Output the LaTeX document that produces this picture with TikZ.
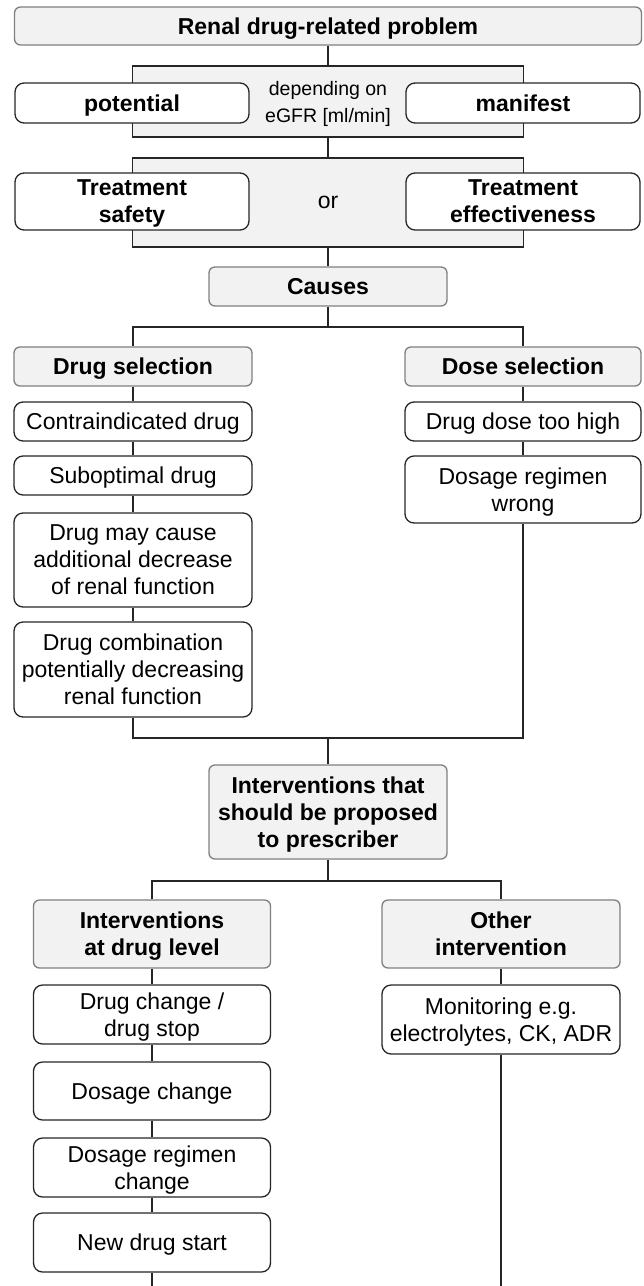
\documentclass[tikz,border=0pt]{standalone}
\usepackage{fontspec}
\setmainfont{Liberation Sans}
\definecolor{headfill}{HTML}{F2F2F2}
\definecolor{headline}{HTML}{7F7F7F}

\begin{document}
\fontsize{23}{27}\selectfont
\begin{tikzpicture}[x = 1pt, y = -1pt,
    head/.style = {draw = headline, fill = headfill, rounded corners = 6pt,
      line width = 1.3pt, font = \bfseries, align = center, inner sep = 0pt,
      text depth = 0pt},
    item/.style = {draw = black!85, fill = white, rounded corners = 9pt,
      line width = 1.3pt, align = center, inner sep = 0pt, text depth = 0pt},
    group/.style = {draw = black!85, fill = headfill, line width = 1.3pt,
      align = center, inner sep = 0pt, text depth = 0pt},
    link/.style = {draw = black!85, line width = 1.4pt}]

  \useasboundingbox (0, 0) rectangle (644, 1286);

  \node[head, minimum width = 627pt, minimum height = 38pt]
    (problem) at (328, 26) {Renal drug-related problem};

  \node[group, minimum width = 391pt, minimum height = 71pt,
    font = \fontsize{19.5}{27}\selectfont]
    (egfr) at (328, 101.5) {depending on\\eGFR [ml/min]};
  \node[item, font = \bfseries, minimum width = 234pt, minimum height = 40pt]
    (potential) at (132, 103) {potential};
  \node[item, font = \bfseries, minimum width = 234pt, minimum height = 40pt]
    (manifest) at (523, 103) {manifest};

  \node[group, minimum width = 391pt, minimum height = 89pt]
    (treatment) at (328, 202.5) {or};
  \node[item, font = \bfseries, minimum width = 234pt, minimum height = 57pt]
    (safety) at (132, 201.5) {Treatment\\safety};
  \node[item, font = \bfseries, minimum width = 234pt, minimum height = 57pt]
    (effective) at (523, 201.5) {Treatment\\effectiveness};

  \node[head, minimum width = 238pt, minimum height = 39pt]
    (causes) at (328, 286.5) {Causes};

  \node[head, minimum width = 238pt, minimum height = 39pt]
    (drugsel) at (133, 366.5) {Drug selection};
  \node[item, minimum width = 238pt, minimum height = 39pt]
    (contra) at (133, 421.5) {Contraindicated drug};
  \node[item, minimum width = 238pt, minimum height = 39pt]
    (subopt) at (133, 475.5) {Suboptimal drug};
  \node[item, minimum width = 238pt, minimum height = 94pt]
    (decrease) at (133, 560) {Drug may cause\\additional decrease\\of renal function};
  \node[item, minimum width = 238pt, minimum height = 95pt]
    (combination) at (133, 669.5)
    {Drug combination\\potentially decreasing\\renal function};

  \node[head, minimum width = 236pt, minimum height = 39pt]
    (dosesel) at (523, 366.5) {Dose selection};
  \node[item, minimum width = 236pt, minimum height = 39pt]
    (toohigh) at (523, 421.5) {Drug dose too high};
  \node[item, minimum width = 236pt, minimum height = 67pt]
    (wrong) at (523, 489.5) {Dosage regimen\\wrong};

  \node[head, minimum width = 238pt, minimum height = 94pt]
    (interventions) at (328, 812)
    {Interventions that\\should be proposed\\to prescriber};

  \node[head, minimum width = 237pt, minimum height = 68pt]
    (druglevel) at (152, 934) {Interventions\\at drug level};
  \node[item, minimum width = 237pt, minimum height = 59pt]
    (drugchange) at (152, 1014.5) {Drug change /\\drug stop};
  \node[item, minimum width = 237pt, minimum height = 58pt]
    (dosechange) at (152, 1091) {Dosage change};
  \node[item, minimum width = 237pt, minimum height = 59pt]
    (regimenchange) at (152, 1167.5) {Dosage regimen\\change};
  \node[item, minimum width = 237pt, minimum height = 59pt]
    (newdrug) at (152, 1242.5) {New drug start};

  \node[head, minimum width = 238pt, minimum height = 68pt]
    (other) at (501, 934) {Other\\intervention};
  \node[item, minimum width = 238pt, minimum height = 69pt]
    (monitoring) at (501, 1019.5) {Monitoring e.g.\\electrolytes, CK, ADR};

  \coordinate (causesplit) at (328, 327);
  \coordinate (causemerge) at (328, 738);
  \coordinate (intsplit) at (328, 881);
  \coordinate (leftend) at (152, 1286);
  \coordinate (rightend) at (501, 1286);

  \draw[link] (problem) -- (egfr);
  \draw[link] (egfr) -- (treatment);
  \draw[link] (treatment) -- (causes);
  \draw[link] (causes) -- (causesplit);
  \draw[link] (drugsel) |- (causesplit) -| (dosesel);

  \foreach \a/\b in {drugsel/contra, contra/subopt, subopt/decrease,
    decrease/combination, dosesel/toohigh, toohigh/wrong} {
    \draw[link] (\a) -- (\b);
  }

  \draw[link] (combination) |- (causemerge) -| (wrong);
  \draw[link] (causemerge) -- (interventions);
  \draw[link] (interventions) -- (intsplit);
  \draw[link] (druglevel) |- (intsplit) -| (other);

  \foreach \a/\b in {druglevel/drugchange, drugchange/dosechange,
    dosechange/regimenchange, regimenchange/newdrug, newdrug/leftend,
    other/monitoring, monitoring/rightend} {
    \draw[link] (\a) -- (\b);
  }

\end{tikzpicture}
\end{document}
